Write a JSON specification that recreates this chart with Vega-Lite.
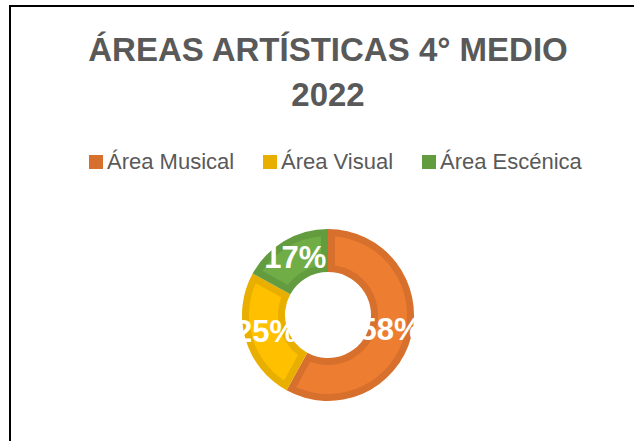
{
  "$schema": "https://vega.github.io/schema/vega-lite/v6.json",
  "width": 636,
  "height": 618,
  "autosize": {"type": "none"},
  "padding": {"left": 10, "top": 6, "right": -12, "bottom": -183},
  "background": "white",
  "view": {"stroke": "#000000", "strokeWidth": 2},
  "config": {"view": {"stroke": "#000000", "strokeWidth": 2}, "style": {"cell": {"stroke": "#000000", "strokeWidth": 2}}},
  "title": {
    "text": ["ÁREAS ARTÍSTICAS 4° MEDIO", "2022"],
    "font": "Liberation Sans",
    "fontSize": 33,
    "fontWeight": "bold",
    "color": "#595959",
    "anchor": "middle",
    "frame": "group",
    "lineHeight": 45,
    "baseline": "top",
    "dy": 111
  },
  "data": {
    "values": [
      {"area": "Área Musical", "value": 58, "label": "58%", "order": 1},
      {"area": "Área Visual", "value": 25, "label": "25%", "order": 2},
      {"area": "Área Escénica", "value": 17, "label": "17%", "order": 3}
    ]
  },
  "encoding": {
    "theta": {"field": "value", "type": "quantitative", "stack": true},
    "order": {"field": "order", "type": "quantitative"}
  },
  "layer": [
    {
      "mark": {"type": "arc", "outerRadius": 86, "innerRadius": 43},
      "encoding": {
        "color": {
          "field": "area",
          "type": "nominal",
          "scale": {"domain": ["Área Musical", "Área Visual", "Área Escénica"], "range": ["#D8702D", "#E8AF00", "#629C3E"]},
          "legend": {
            "orient": "none",
            "legendX": 75,
            "legendY": 145,
            "direction": "horizontal",
            "columns": 3,
            "title": null,
            "symbolType": "square",
            "symbolSize": 196,
            "symbolStrokeWidth": 0,
            "labelFont": "Liberation Sans",
            "labelFontSize": 22,
            "labelColor": "#595959",
            "labelOffset": 0,
            "columnPadding": 24,
            "labelLimit": 300
          }
        }
      }
    },
    {
      "mark": {"type": "arc", "outerRadius": 79, "innerRadius": 50, "padAngle": 0.15},
      "encoding": {
        "color": {
          "field": "area",
          "type": "nominal",
          "scale": {"domain": ["Área Musical", "Área Visual", "Área Escénica"], "range": ["#ED7D31", "#FFC000", "#70AD47"]},
          "legend": null
        }
      }
    },
    {
      "mark": {"type": "text", "radius": 64.5, "font": "Liberation Sans", "fontSize": 31, "fontWeight": "bold", "color": "#FFFFFF", "align": "center", "baseline": "middle"},
      "encoding": {"text": {"field": "label", "type": "nominal"}}
    }
  ],
  "resolve": {"scale": {"color": "independent"}, "legend": {"color": "independent"}}
}
